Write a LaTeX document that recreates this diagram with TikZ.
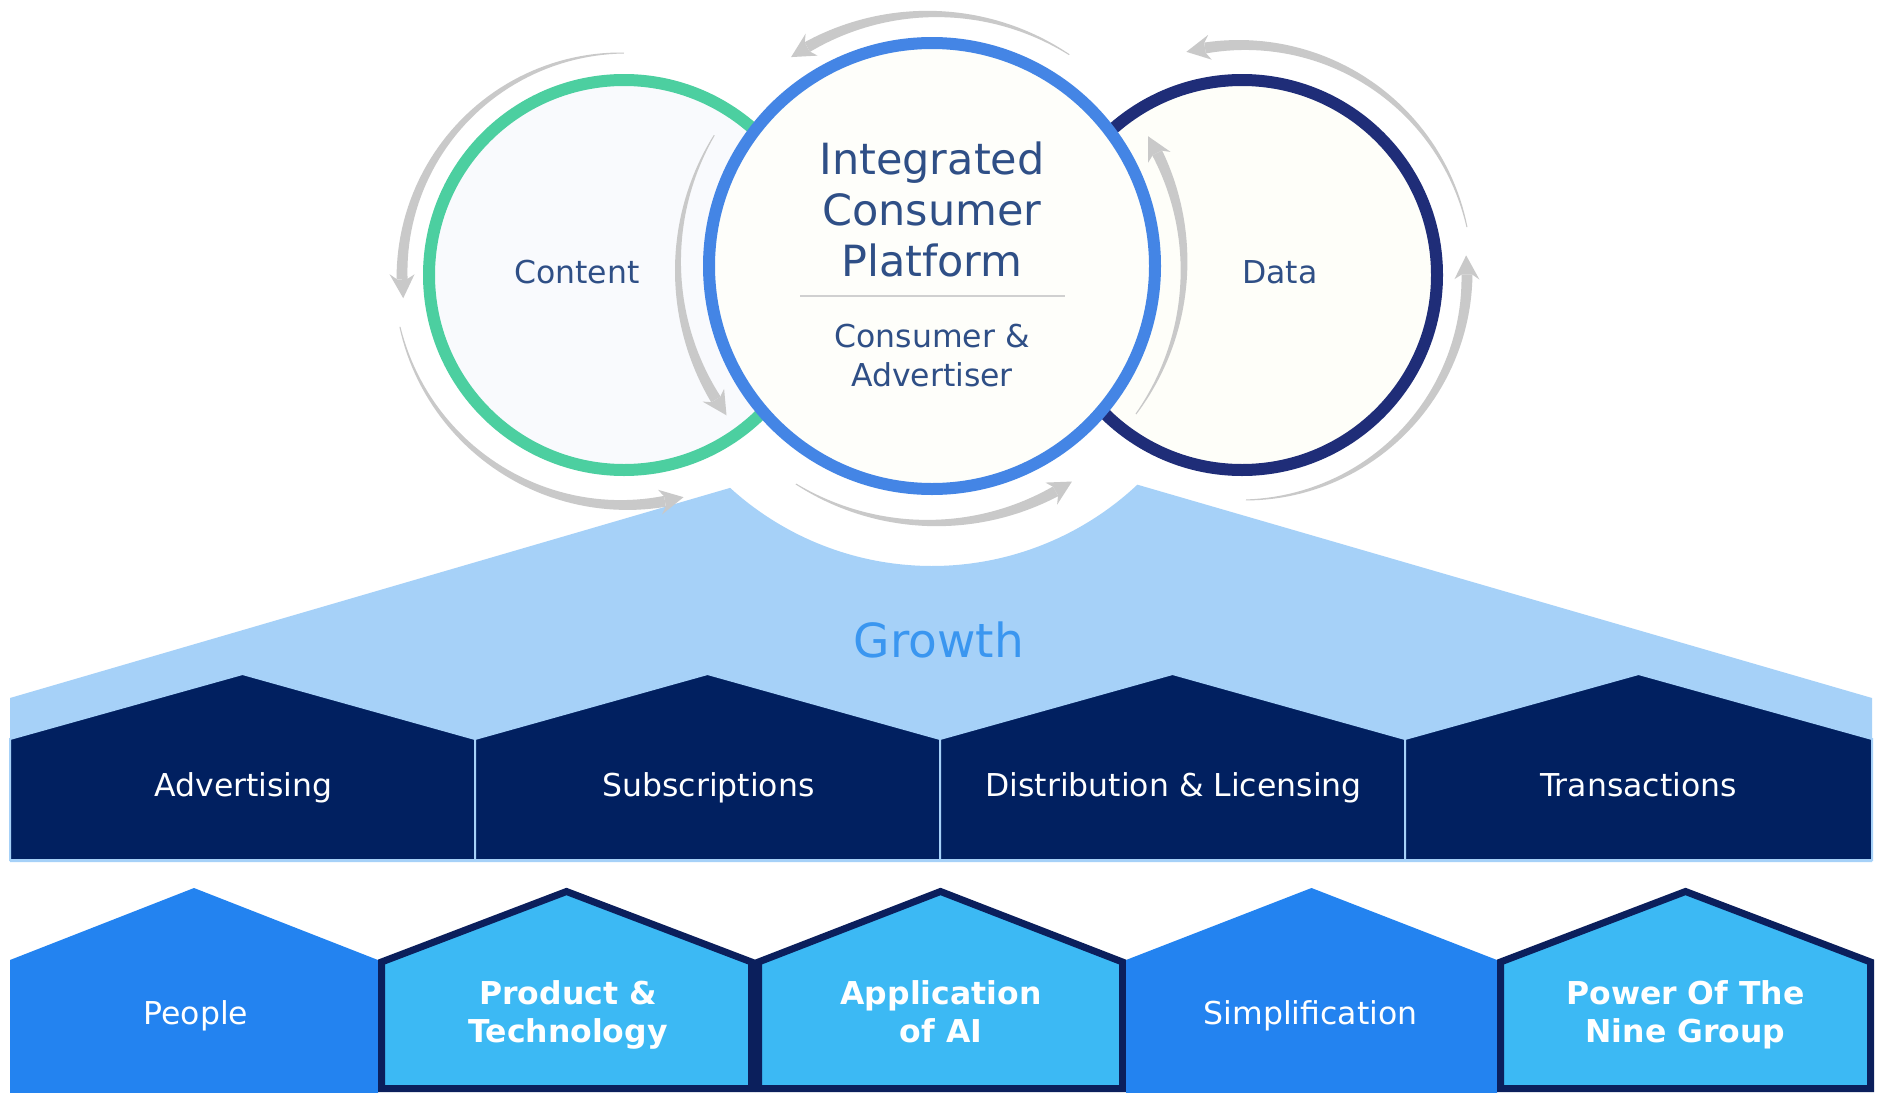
\documentclass[tikz,border=0pt]{standalone}
\usepackage{fontspec}
\setmainfont{DejaVu Sans}
\definecolor{ringgreen}{RGB}{76,207,160}
\definecolor{ringblue}{RGB}{68,133,229}
\definecolor{ringnavy}{RGB}{31,45,120}
\definecolor{greenfill}{RGB}{249,250,253}
\definecolor{bluefill}{RGB}{254,254,250}
\definecolor{navyfill}{RGB}{254,254,249}
\definecolor{arrowgray}{RGB}{201,201,201}
\definecolor{txtblue}{RGB}{47,79,134}
\definecolor{growthbg}{RGB}{166,209,248}
\definecolor{growthtxt}{RGB}{58,150,240}
\definecolor{navybox}{RGB}{1,32,96}
\definecolor{midblue}{RGB}{35,131,240}
\definecolor{skyblue}{RGB}{60,185,244}
\definecolor{bordnavy}{RGB}{11,31,92}
\definecolor{sepgray}{RGB}{208,208,208}
\newcommand{\tarrow}[5]{%
  \pgfmathsetmacro{\sg}{ifthenelse(#5>#4,1,-1)}%
  \pgfmathsetmacro{\hb}{#5-\sg*19/#3*57.2958}%
  \pgfmathsetmacro{\hbb}{#5-\sg*24/#3*57.2958}%
  \pgfmathsetmacro{\ta}{#4}%
  \pgfmathsetmacro{\dspan}{\hb-(\ta)}%
  \fill[arrowgray] plot[domain=0:1,samples=50] ({#1+(#3+0.5+5*\x)*cos(\ta+\x*(\dspan))},{#2-(#3+0.5+5*\x)*sin(\ta+\x*(\dspan))})
    -- plot[domain=0:1,samples=50] ({#1+(#3-5.5+5*\x)*cos(\hb-\x*(\dspan))},{#2-(#3-5.5+5*\x)*sin(\hb-\x*(\dspan))}) -- cycle;
  \fill[arrowgray] ({#1+(#3+5)*cos(\hb)},{#2-(#3+5)*sin(\hb)}) -- ({#1+(#3+12.5)*cos(\hbb)},{#2-(#3+12.5)*sin(\hbb)}) -- ({#1+#3*cos(#5)},{#2-#3*sin(#5)}) -- ({#1+(#3-12.5)*cos(\hbb)},{#2-(#3-12.5)*sin(\hbb)}) -- ({#1+(#3-5)*cos(\hb)},{#2-(#3-5)*sin(\hb)}) -- cycle;
}
\begin{document}
\begin{tikzpicture}[x=1pt,y=-1pt,
  lbl/.style={font=\fontsize{31.5}{38}\selectfont, anchor=base, inner sep=0pt},
  bigl/.style={font=\fontsize{43}{51}\selectfont, anchor=base, inner sep=0pt, text=txtblue},
  boldl/.style={font=\fontsize{31.5}{38}\selectfont\bfseries, anchor=base, inner sep=0pt, text=white},
  toprow/.style={fill=navybox, draw=growthbg, line width=2pt},
  plainhouse/.style={fill=midblue},
  bordhouse/.style={fill=skyblue, draw=bordnavy, line width=7pt, line join=miter}]
\useasboundingbox (0,0) rectangle (1878,1092);
\fill[white] (0,0) rectangle (1878,1092);
% growth mountain
\fill[growthbg] (10,698) -- plot[domain=227.7:313.2,samples=80] ({932+300*cos(\x)},{266-300*sin(\x)}) -- (1872,698) -- (1872,862) -- (10,862) -- cycle;
\node[font=\fontsize{47}{56}\selectfont, anchor=base, inner sep=0pt, text=growthtxt] (growth) at (939,657) {Growth};
% top row houses
\path[toprow] (10,739) -- (242.5,674) -- (475,739) -- (475,860) -- (10,860) -- cycle;
\path[toprow] (475,739) -- (707.5,674) -- (940,739) -- (940,860) -- (475,860) -- cycle;
\path[toprow] (940,739) -- (1172.5,674) -- (1405,739) -- (1405,860) -- (940,860) -- cycle;
\path[toprow] (1405,739) -- (1638.5,674) -- (1872,739) -- (1872,860) -- (1405,860) -- cycle;
\node[lbl, text=white] (adv) at (243.5,796) {Advertising};
\node[lbl, text=white] (subs) at (708.5,796) {Subscriptions};
\node[lbl, text=white] (dist) at (1173.5,796) {Distribution \& Licensing};
\node[lbl, text=white] (trans) at (1638.5,796) {Transactions};
% bottom row houses
\path[plainhouse] (10,960) -- (194,888) -- (378,960) -- (378,1100) -- (10,1100) -- cycle;
\path[bordhouse] (381.5,962) -- (566.5,891.5) -- (751.5,962) -- (751.5,1088.5) -- (381.5,1088.5) -- cycle;
\path[bordhouse] (758.5,962) -- (940.5,891.5) -- (1122.5,962) -- (1122.5,1088.5) -- (758.5,1088.5) -- cycle;
\path[plainhouse] (1126,960) -- (1311.5,888) -- (1497,960) -- (1497,1100) -- (1126,1100) -- cycle;
\path[bordhouse] (1500.5,962) -- (1685.5,891.5) -- (1870.5,962) -- (1870.5,1088.5) -- (1500.5,1088.5) -- cycle;
\node[lbl, text=white] (people) at (196,1024) {People};
\node[boldl] (prod1) at (568,1004) {Product \&};
\node[boldl] (prod2) at (568,1042) {Technology};
\node[boldl] (ai1) at (941,1004) {Application};
\node[boldl] (ai2) at (941,1042) {of AI};
\node[lbl, text=white] (simp) at (1310.5,1024) {Simplification};
\node[boldl] (pow1) at (1685.5,1004) {Power Of The};
\node[boldl] (pow2) at (1685.5,1042) {Nine Group};
% circles
\draw[ringgreen, line width=12pt, fill=greenfill] (624,275) circle[radius=195pt];
\draw[ringnavy, line width=12pt, fill=navyfill] (1242,275) circle[radius=195pt];
\draw[ringblue, line width=12pt, fill=bluefill] (932,266) circle[radius=223pt];
\node[lbl, text=txtblue] (content) at (577,283) {Content};
\node[lbl, text=txtblue] (data) at (1280,283) {Data};
\node[bigl] (icp1) at (932,174) {Integrated};
\node[bigl] (icp2) at (932,225) {Consumer};
\node[bigl] (icp3) at (932,276) {Platform};
\draw[sepgray, line width=2pt] (800,296) -- (1065,296);
\node[lbl, text=txtblue] (ca1) at (932,347) {Consumer \&};
\node[lbl, text=txtblue] (ca2) at (932,386) {Advertiser};
% cycle arrows
\tarrow{624}{275}{222}{90}{186}
\tarrow{624}{275}{230}{193}{285}
\tarrow{932}{266}{254}{149}{216}
\tarrow{932}{266}{252}{57}{124}
\tarrow{932}{266}{257}{238}{303}
\tarrow{932}{266}{252}{-36}{31}
\tarrow{1242}{275}{230}{12}{104}
\tarrow{1242}{275}{225}{-89}{5}
\end{tikzpicture}
\end{document}
